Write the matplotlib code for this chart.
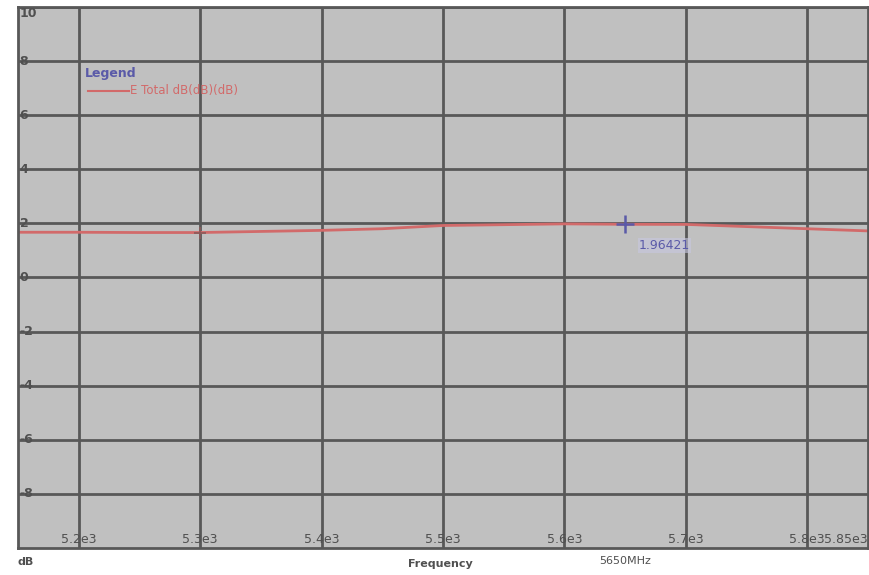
import numpy as np
import matplotlib
matplotlib.use("Agg")
import matplotlib.pyplot as plt

# E Total dB vs frequency (MHz)
freq_mhz = [5150, 5200, 5250, 5300, 5350, 5400, 5450, 5500, 5550, 5600,
            5650, 5700, 5750, 5800, 5850]
e_total_db = [1.67, 1.67, 1.66, 1.66, 1.70, 1.74, 1.80, 1.92, 1.95, 1.98,
              1.964, 1.96, 1.88, 1.80, 1.72]

x_ticks = [5200, 5300, 5400, 5500, 5600, 5700, 5800, 5850]
x_tick_labels = ["5.2e3", "5.3e3", "5.4e3", "5.5e3", "5.6e3", "5.7e3", "5.8e3", "5.85e3"]
y_ticks = [10, 8, 6, 4, 2, 0, -2, -4, -6, -8]
y_tick_labels = ["10", "8", "6", "4", "2", "0", "-2", "-4", "-6", "-8"]

marker_freq = 5650
marker_value = 1.96421
point_freq = 5300
point_value = 1.66
series_name = "E Total dB(dB)(dB)"

BG = "#c0c0c0"
GRID = "#585858"
RED = "#d26a6a"
BLUE = "#5a5aa8"
TXT = "#505050"

fig = plt.figure(figsize=(8.69, 5.75), dpi=100)
fig.patch.set_facecolor("white")
ax = fig.add_axes([0.0207, 0.047, 0.978, 0.941])
ax.set_facecolor(BG)

ax.set_xlim(5150, 5850)
ax.set_ylim(-10, 10)

ax.set_xticks(x_ticks[:-1])
ax.set_yticks(y_ticks)
ax.grid(True, color=GRID, linewidth=2)
ax.tick_params(length=0, labelbottom=False, labelleft=False)
for s in ax.spines.values():
    s.set_color(GRID)
    s.set_linewidth(2)

# tick labels drawn inside the plot area
xt = ax.get_xaxis_transform()
for xv, lab in zip(x_ticks, x_tick_labels):
    ha = "right" if xv == x_ticks[-1] else "center"
    ax.text(xv, 0.004, lab, transform=xt, ha=ha, va="bottom",
            fontsize=9, color=TXT)
yt = ax.get_yaxis_transform()
for yv, lab in zip(y_ticks, y_tick_labels):
    ax.text(0.002, yv, lab, transform=yt, ha="left",
            va="top" if yv == 10 else "center", fontsize=9, color=TXT,
            fontweight="bold")

line, = ax.plot(freq_mhz, e_total_db, color=RED, linewidth=2)
ax.plot([point_freq], [point_value], marker="+", markersize=8,
        color="#8a5a5a", markeredgewidth=1.2)

# marker
ax.plot([marker_freq], [marker_value], marker="+", markersize=13,
        color=BLUE, markeredgewidth=1.8)
ax.annotate("%.5f" % marker_value, (marker_freq, marker_value),
            xytext=(10, -20), textcoords="offset points",
            fontsize=9, color=BLUE, ha="left", va="bottom",
            bbox=dict(boxstyle="square,pad=0.1", fc="#c8c8e0", ec="none", alpha=0.6))

# legend block
ax.text(0.079, 0.876, "Legend", transform=ax.transAxes, fontsize=9,
        color=BLUE, fontweight="bold", ha="left", va="center")
ax.plot([0.082, 0.131], [0.845, 0.845], transform=ax.transAxes,
        color=RED, linewidth=1.5)
ax.text(0.132, 0.845, series_name, transform=ax.transAxes,
        fontsize=8.5, color=RED, ha="left", va="center")

# labels below the plot
fig.text(0.03, 0.022, "dB", fontsize=8, color=TXT, ha="center", va="center",
         fontweight="bold")
fig.text(0.507, 0.019, "Frequency", fontsize=8, color=TXT, ha="center",
         va="center", fontweight="bold")
fig.text(0.719, 0.025, "5650MHz", fontsize=8, color=TXT, ha="center",
         va="center")

fig.savefig("out.png", dpi=100, facecolor=fig.get_facecolor())
